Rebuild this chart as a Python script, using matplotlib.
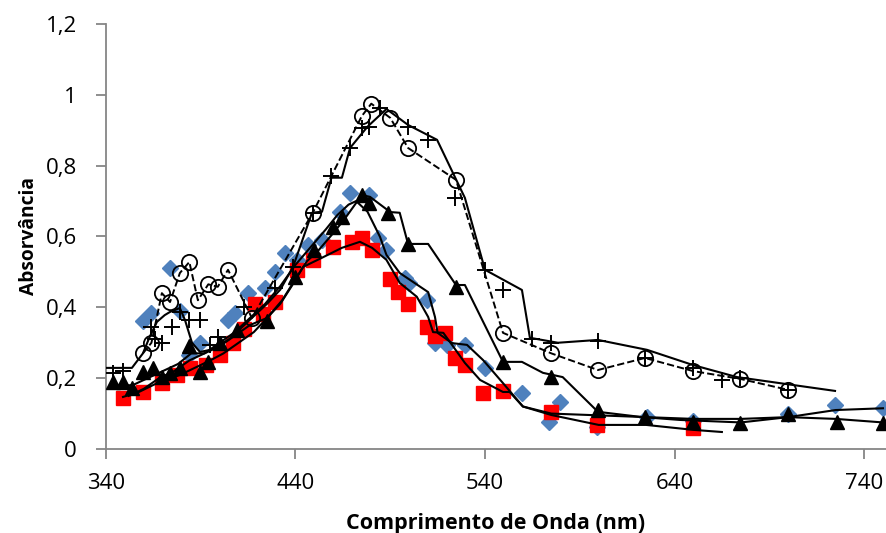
import matplotlib
matplotlib.use("Agg")
import matplotlib.pyplot as plt
from matplotlib.ticker import FuncFormatter

# losangos azuis (so marcadores)
x_losango = [359.5, 364, 373.8, 379, 384, 389.6, 404.4, 408, 415, 424, 429, 434.5, 441, 446.6, 454, 463.5,
             468.8, 479, 483.5, 488, 497.8, 500, 509.4, 513.6, 520, 529.4, 540, 559.5, 574, 579.6, 599,
             625.5, 650, 700, 724.7, 750]
y_losango = [0.36, 0.385, 0.51, 0.39, 0.265, 0.30, 0.364, 0.384, 0.44, 0.455, 0.50, 0.553, 0.535, 0.576, 0.59,
             0.67, 0.723, 0.717, 0.596, 0.562, 0.483, 0.469, 0.42, 0.30, 0.294, 0.294, 0.229, 0.158, 0.076,
             0.133, 0.062, 0.09, 0.08, 0.10, 0.124, 0.115]

# quadrados vermelhos
x_quadrado = [349, 359.5, 369.5, 377.5, 384.3, 393, 400, 407, 413, 418.6, 423, 429, 441, 449, 460, 470, 475,
              480.4, 490, 494, 499.4, 509.4, 513.6, 519, 524, 529.4, 539, 549.5, 575, 599, 650]
y_quadrado = [0.145, 0.16, 0.186, 0.21, 0.23, 0.237, 0.265, 0.30, 0.34, 0.41, 0.38, 0.415, 0.505, 0.534, 0.57,
              0.585, 0.596, 0.562, 0.48, 0.443, 0.41, 0.345, 0.32, 0.328, 0.257, 0.237, 0.158, 0.164, 0.105,
              0.068, 0.06]

# triangulos pretos
x_triangulo = [343.7, 349, 354, 359.5, 365, 369.5, 374, 379, 383.8, 389.6, 394, 400, 409, 425, 440, 450, 460,
               464.5, 475, 479, 489, 499.4, 524.7, 549.5, 575, 599.6, 624.5, 650, 674.6, 700, 725.7, 750]
y_triangulo = [0.19, 0.19, 0.172, 0.218, 0.23, 0.204, 0.215, 0.23, 0.29, 0.218, 0.245, 0.30, 0.336, 0.36,
               0.486, 0.562, 0.627, 0.655, 0.717, 0.695, 0.667, 0.579, 0.458, 0.246, 0.203, 0.11, 0.09,
               0.076, 0.073, 0.10, 0.076, 0.073]

# circulos abertos com linha tracejada
x_circulo = [359.5, 364, 369.5, 373.8, 379, 384, 388.5, 394, 399, 404.4, 417, 449, 475, 480, 490, 499.4,
             524.7, 549.5, 575, 599.6, 624.4, 649.8, 674.6, 700]
y_circulo = [0.27, 0.30, 0.44, 0.415, 0.497, 0.528, 0.42, 0.465, 0.458, 0.506, 0.37, 0.666, 0.94, 0.975,
             0.935, 0.85, 0.76, 0.328, 0.27, 0.223, 0.257, 0.22, 0.198, 0.167]

# cruzes
x_cruz = [343.7, 349, 364, 366, 369.5, 374.8, 379, 384, 389.6, 395, 399, 413, 429, 438.7, 449, 459, 468.8,
          475, 479, 484.6, 499.4, 510, 524, 540, 549.5, 564.8, 575, 599.6, 624.4, 649.8, 665, 674.6, 700]
y_cruz = [0.215, 0.22, 0.345, 0.31, 0.30, 0.345, 0.387, 0.364, 0.364, 0.294, 0.316, 0.40, 0.455, 0.514,
          0.666, 0.77, 0.85, 0.905, 0.91, 0.963, 0.91, 0.873, 0.71, 0.505, 0.45, 0.31, 0.30, 0.305, 0.257,
          0.23, 0.195, 0.2, 0.167]

# linhas continuas (sem marcadores)
x_linha1 = [340.5, 353.7, 359.5, 363, 366.9, 371, 373.8, 379, 381.7, 385.4, 389.6, 395, 405, 415, 425, 432,
            438.7, 448.7, 454, 459, 464.5, 468.8, 478, 488, 499.4, 514.7, 529.4, 540, 559.5, 563.7, 578.5,
            599.6, 625.5, 649.8, 673, 724.7]
y_linha1 = [0.229, 0.229, 0.27, 0.316, 0.359, 0.378, 0.387, 0.398, 0.364, 0.30, 0.274, 0.28, 0.31, 0.36,
            0.41, 0.45, 0.514, 0.667, 0.67, 0.766, 0.766, 0.85, 0.91, 0.96, 0.915, 0.873, 0.709, 0.506,
            0.449, 0.314, 0.30, 0.308, 0.28, 0.237, 0.203, 0.164]

x_linha2 = [344, 354, 362, 370, 378, 385, 392, 400, 408, 416, 425, 433, 440, 446, 452, 460, 466, 475, 479.3,
            490, 495, 499.4, 510, 524.7, 529.4, 549.5, 559.5, 570.6, 581, 599.6, 623, 643, 675, 700, 725, 750]
y_linha2 = [0.18, 0.18, 0.20, 0.22, 0.24, 0.27, 0.27, 0.29, 0.32, 0.35, 0.37, 0.42, 0.48, 0.53, 0.56, 0.61,
            0.65, 0.717, 0.712, 0.669, 0.667, 0.579, 0.579, 0.463, 0.463, 0.246, 0.246, 0.215, 0.203, 0.105,
            0.09, 0.082, 0.075, 0.09, 0.085, 0.075]

x_linha3 = [352, 360, 368, 376, 384, 392, 400, 408, 416, 424, 432, 440, 448, 456, 462, 468, 472, 478, 484.6,
            488, 495, 510, 513.6, 515, 522.6, 530.5, 539, 549.5, 560, 575, 600, 625, 650, 675, 700, 725, 750]
y_linha3 = [0.15, 0.17, 0.20, 0.22, 0.25, 0.27, 0.30, 0.33, 0.37, 0.41, 0.46, 0.52, 0.57, 0.62, 0.66, 0.69,
            0.70, 0.67, 0.599, 0.548, 0.497, 0.443, 0.373, 0.328, 0.299, 0.294, 0.251, 0.186, 0.12, 0.10,
            0.095, 0.09, 0.085, 0.085, 0.09, 0.11, 0.115]

x_linha4 = [349, 357, 367, 379, 388, 395, 402, 410, 418, 425, 432, 438, 444, 454, 464.5, 474, 480.4, 488, 495,
            504, 510, 512.6, 518, 522.6, 529.4, 537.4, 549.5, 553, 560, 575, 600, 625, 650, 665]
y_linha4 = [0.147, 0.16, 0.186, 0.209, 0.232, 0.25, 0.27, 0.30, 0.33, 0.37, 0.41, 0.46, 0.514, 0.54, 0.568,
            0.585, 0.568, 0.534, 0.469, 0.43, 0.373, 0.33, 0.328, 0.294, 0.243, 0.195, 0.161, 0.161, 0.12,
            0.096, 0.068, 0.068, 0.054, 0.048]

x_ticks = [340, 440, 540, 640, 740]
y_ticks = [0, 0.2, 0.4, 0.6, 0.8, 1.0, 1.2]

plt.rcParams['font.family'] = ['Open Sans', 'DejaVu Sans']

fig = plt.figure(figsize=(8.86, 5.33), dpi=100)
ax = fig.add_axes([0.1196, 0.1576, 0.8804, 0.7974])

# marcadores
ax.plot(x_losango, y_losango, linestyle='none', marker='D', markersize=8, color='#4F81BD', zorder=2)
ax.plot(x_quadrado, y_quadrado, linestyle='none', marker='s', markersize=10.5, color='#FF0000', zorder=3)
ax.plot(x_triangulo, y_triangulo, linestyle='none', marker='^', markersize=10.5, color='black', zorder=4)
ax.plot(x_circulo, y_circulo, linestyle='--', linewidth=1.4, color='black', marker='o', markersize=11,
        markerfacecolor='none', markeredgecolor='black', markeredgewidth=1.3, zorder=5)
ax.plot(x_cruz, y_cruz, linestyle='none', marker='+', markersize=12, markeredgewidth=1.4, color='black',
        zorder=5)

# linhas
for xs, ys in [(x_linha1, y_linha1), (x_linha2, y_linha2), (x_linha3, y_linha3), (x_linha4, y_linha4)]:
    ax.plot(xs, ys, color='black', linewidth=1.5, zorder=6)

ax.set_xlim(340, 751.6)
ax.set_ylim(0, 1.2)
ax.set_xticks(x_ticks)
ax.set_yticks(y_ticks)
ax.yaxis.set_major_formatter(FuncFormatter(lambda v, p: ('%g' % round(v, 1)).replace('.', ',')))

for lado in ['top', 'right']:
    ax.spines[lado].set_visible(False)
for lado in ['left', 'bottom']:
    ax.spines[lado].set_color('#868686')
    ax.spines[lado].set_linewidth(1.3)
ax.tick_params(axis='both', colors='#868686', length=7, width=1.3, labelsize=16, labelcolor='black')
ax.tick_params(axis='x', pad=10)
ax.tick_params(axis='y', pad=14)

ax.set_xlabel('Comprimento de Onda (nm)', fontsize=15.5, fontweight='bold', labelpad=14)
ax.set_ylabel('Absorvância', fontsize=13.8, fontweight='bold', labelpad=5)

plt.savefig('out.png', dpi=100)
